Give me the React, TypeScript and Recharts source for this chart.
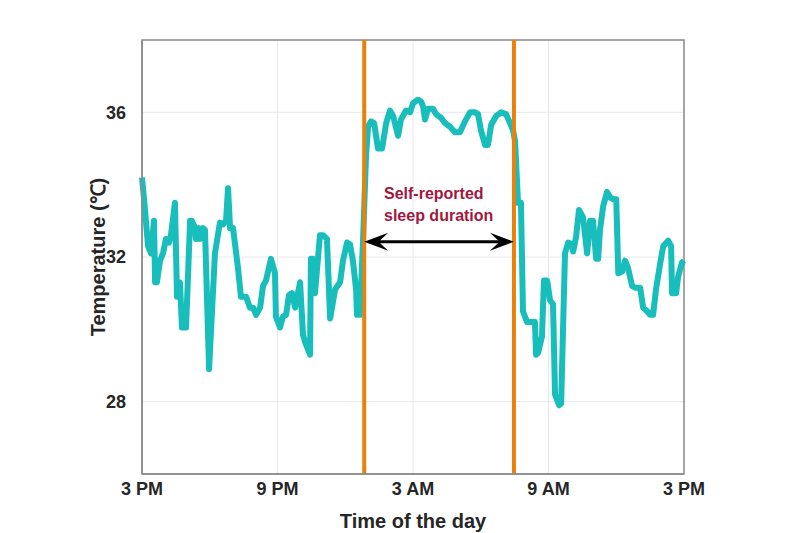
import React from "react"
import { CartesianGrid, Line, LineChart, ReferenceArea, ReferenceLine, XAxis, YAxis } from "recharts"

// hours since 3 PM
const hours = [
  0.0, 0.09, 0.27, 0.4, 0.53, 0.58, 0.66, 0.8, 0.93, 1.06, 1.2, 1.28, 1.46, 1.55, 1.68, 1.77, 1.95, 2.13,
  2.21, 2.35, 2.39, 2.52, 2.57, 2.7, 2.79, 2.97, 3.23, 3.45, 3.59, 3.72, 3.81, 3.9, 4.03, 4.25, 4.38, 4.61,
  4.78, 4.92, 5.05, 5.23, 5.36, 5.49, 5.71, 5.89, 5.93, 6.11, 6.24, 6.38, 6.51, 6.64, 6.78, 7.0, 7.13, 7.22,
  7.44, 7.48, 7.57, 7.66, 7.88, 8.02, 8.19, 8.33, 8.55, 8.77, 8.9, 9.08, 9.21, 9.34, 9.48, 9.52, 9.65, 9.79,
  9.92, 10.01, 10.14, 10.28, 10.45, 10.63, 10.81, 10.98, 11.12, 11.34, 11.47, 11.69, 11.87, 12.0, 12.22,
  12.36, 12.45, 12.53, 12.67, 12.89, 13.02, 13.24, 13.42, 13.64, 13.86, 14.08, 14.3, 14.53, 14.75, 14.88,
  15.01, 15.19, 15.32, 15.46, 15.68, 15.9, 16.12, 16.3, 16.43, 16.52, 16.65, 16.78, 16.87, 17.05, 17.18,
  17.4, 17.45, 17.54, 17.71, 17.8, 17.94, 18.07, 18.2, 18.29, 18.47, 18.56, 18.73, 18.87, 19.04, 19.09,
  19.22, 19.35, 19.53, 19.71, 19.84, 19.97, 20.11, 20.2, 20.28, 20.42, 20.59, 20.73, 20.86, 21.0, 21.09,
  21.26, 21.39, 21.52, 21.7, 21.84, 22.06, 22.19, 22.37, 22.5, 22.63, 22.76, 22.94, 23.08, 23.3, 23.43,
  23.47, 23.65, 23.74, 23.91, 24.0,
]

const temps = [
  34.2, 33.6, 32.3, 32.1, 33.0, 31.3, 31.3, 31.9, 32.1, 32.5, 32.4, 32.6, 33.5, 30.9, 31.3, 30.05, 30.05, 33.0,
  33.0, 32.8, 32.5, 32.8, 32.5, 32.8, 32.75, 28.9, 32.1, 32.95, 32.9, 33.0, 33.9, 32.8, 32.8, 31.7, 30.9, 30.9,
  30.6, 30.6, 30.4, 30.6, 31.2, 31.35, 31.95, 31.55, 30.35, 30.05, 30.35, 30.4, 30.95, 31.0, 30.6, 31.3, 29.85, 29.65,
  29.3, 31.95, 31.95, 31.0, 32.6, 32.6, 32.5, 30.3, 31.1, 31.3, 31.9, 32.4, 32.35, 31.9, 31.1, 30.4, 30.4, 32.5,
  34.8, 35.6, 35.75, 35.7, 35.0, 35.0, 35.7, 36.05, 35.9, 35.35, 35.8, 36.05, 36.0, 36.25, 36.35,
  36.3, 36.15, 35.8, 36.1, 36.1, 35.95, 35.85, 35.7, 35.6, 35.45, 35.45, 35.75, 36.0, 36.0, 35.95,
  35.5, 35.1, 35.1, 35.65, 35.9, 36.0, 35.95, 35.7, 35.5, 35.2, 33.5, 33.5, 30.5, 30.2, 30.2,
  30.2, 29.3, 29.35, 29.8, 31.35, 31.35, 30.8, 30.7, 28.2, 27.9, 27.95, 32.1, 32.4, 32.35, 32.15,
  32.55, 33.3, 33.1, 32.1, 33.0, 33.0, 31.95, 31.95, 32.75, 33.4, 33.8, 33.65, 33.6, 33.6, 31.55,
  31.6, 31.9, 31.7, 31.2, 31.15, 31.15, 30.6, 30.5, 30.4, 30.4, 31.1, 31.8, 32.3, 32.45, 32.3,
  31.0, 31.0, 31.45, 31.85, 31.9,
]

const xTicks = [0, 6, 12, 18, 24]
const xTickLabels = ["3 PM", "9 PM", "3 AM", "9 AM", "3 PM"]
const yTicks = [28, 32, 36]

const sleepStart = 9.84
const sleepEnd = 16.47
const arrowY = 32.42

const data = hours.map((h, i) => ({ h, t: temps[i] }))

const font = "'Liberation Sans', Arial, sans-serif"
const tickStyle = { fontSize: 18, fontWeight: 700, fill: "#262626", fontFamily: font }

function DoubleArrow(props: any) {
  const { x1, y1, x2 } = props
  const L = 24
  const h = 9
  const y = y1
  return (
    <g>
      <line x1={x1 + 10} y1={y} x2={x2 - 10} y2={y} stroke="#000" strokeWidth={3} />
      <path d={`M${x1},${y} L${x1 + L},${y - h} L${x1 + L * 0.6},${y} L${x1 + L},${y + h} Z`} fill="#000" />
      <path d={`M${x2},${y} L${x2 - L},${y - h} L${x2 - L * 0.6},${y} L${x2 - L},${y + h} Z`} fill="#000" />
    </g>
  )
}

export default function App() {
  return (
    <div style={{ position: "absolute", left: 0, top: 0, width: 800, height: 533, background: "#fff" }}>
      <LineChart width={800} height={533} data={data} margin={{ top: 40, right: 116, bottom: 29, left: 82 }}>
        <CartesianGrid stroke="#e8e8e8" strokeWidth={1} />
        <ReferenceArea x1={0} x2={24} y1={26} y2={38} fill="none" stroke="#8c8c8c" strokeWidth={1.5} />
        <XAxis
          dataKey="h"
          type="number"
          domain={[0, 24]}
          ticks={xTicks}
          tickFormatter={(v) => xTickLabels[xTicks.indexOf(v)]}
          tick={tickStyle}
          tickLine={false}
          stroke="#8c8c8c"
          strokeWidth={1.5}
          height={30}
        />
        <YAxis
          type="number"
          domain={[26, 38]}
          ticks={yTicks}
          tick={tickStyle}
          tickLine={false}
          tickMargin={10}
          stroke="#8c8c8c"
          strokeWidth={1.5}
          width={60}
          allowDataOverflow
        />
        <Line
          dataKey="t"
          type="linear"
          stroke="#17BEBB"
          strokeWidth={6}
          dot={false}
          strokeLinejoin="round"
          isAnimationActive={false}
        />
        <ReferenceLine x={sleepStart} stroke="#E8820C" strokeWidth={4} />
        <ReferenceLine x={sleepEnd} stroke="#E8820C" strokeWidth={4} />
        <ReferenceLine
          segment={[
            { x: sleepStart, y: arrowY },
            { x: sleepEnd, y: arrowY },
          ]}
          shape={DoubleArrow}
        />
      </LineChart>
      <div
        style={{
          position: "absolute",
          left: 384,
          top: 183,
          fontFamily: font,
          fontWeight: 700,
          fontSize: 16,
          lineHeight: "22px",
          color: "#A3173E",
          whiteSpace: "nowrap",
        }}
      >
        Self-reported
        <br />
        sleep duration
      </div>
      <div
        style={{
          position: "absolute",
          left: 413,
          top: 521,
          transform: "translate(-50%, -50%)",
          fontFamily: font,
          fontWeight: 700,
          fontSize: 20,
          color: "#262626",
          whiteSpace: "nowrap",
        }}
      >
        Time of the day
      </div>
      <div
        style={{
          position: "absolute",
          left: 97,
          top: 257,
          transform: "translate(-50%, -50%) rotate(-90deg)",
          fontFamily: font,
          fontWeight: 700,
          fontSize: 20,
          color: "#262626",
          whiteSpace: "nowrap",
        }}
      >
        Temperature (℃)
      </div>
    </div>
  )
}
